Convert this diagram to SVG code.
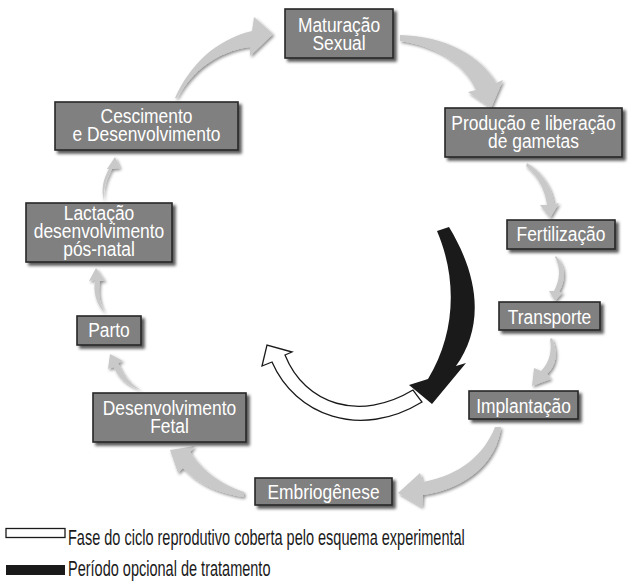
<svg xmlns="http://www.w3.org/2000/svg" width="628" height="581" viewBox="0 0 628 581">
  <defs>
    <filter id="boxShadow" x="-10%" y="-10%" width="130%" height="140%">
      <feDropShadow dx="3" dy="3" stdDeviation="1.4" flood-color="#000" flood-opacity="0.65"/>
    </filter>
    <filter id="arrowShadow" x="-20%" y="-20%" width="150%" height="150%">
      <feDropShadow dx="1.5" dy="1.8" stdDeviation="1.6" flood-color="#000" flood-opacity="0.45"/>
    </filter>
  </defs>
  <style>
    .box { fill: #808080; stroke: #262626; stroke-width: 1.6; filter: url(#boxShadow); }
    /* condensed sans: Liberation Sans squeezed horizontally */
    .lbl { fill: #ffffff; font-family: "Liberation Sans", Arial, sans-serif; font-size: 20px; text-anchor: middle; }
    .flow { fill: #c9c9c9; filter: url(#arrowShadow); }
    .phase { fill: #ffffff; stroke: #1a1a1a; stroke-width: 1.3; stroke-linejoin: miter; }
    .treat { fill: #1a1a1a; }
    .legend { fill: #1a1a1a; font-family: "Liberation Sans", Arial, sans-serif; font-size: 22px; }
  </style>

  <rect width="628" height="581" fill="#ffffff"/>

  <!-- cycle connectors -->
  <g id="connectors">
    <!-- Crescimento -> Maturação -->
    <path class="flow" d="M175,98 C190,65 215,40 252,31 L254,17 L273,34 L250,56 L250,47 C215,52 192,72 177,98 Z"/>
    <!-- Maturação -> Produção -->
    <path class="flow" d="M400,35 C445,36 480,55 496,83 L503,80 L491,108 L468,92 L476,90 C465,65 440,47 400,41 Z"/>
    <!-- Produção -> Fertilização -->
    <path class="flow" d="M527,163 C542,172 552,188 554,204 L559,203 L550,218 L540,205 L547,205 C545,190 538,176 526,166 Z"/>
    <!-- Fertilização -> Transporte -->
    <path class="flow" d="M556,256 C566,266 566,280 559,292 L563,292 L555,301 L549,291 L554,291 C560,280 561,268 555,257 Z"/>
    <!-- Transporte -> Implantação -->
    <path class="flow" d="M552,338 C558,352 557,365 547,374 L551,379 L532,386 L534,368 L541,371 C550,362 552,350 550,339 Z"/>
    <!-- Implantação -> Embriogênese -->
    <path class="flow" d="M501,427 C497,460 470,488 423,495 L422,507 L398,493 L420,473 L423,482 C460,475 484,455 495,427 Z"/>
    <!-- Embriogênese -> Desenvolvimento Fetal -->
    <path class="flow" d="M244,497 C215,493 196,482 183,468 L178,473 L170,450 L195,446 L190,452 C202,471 222,485 244,492 Z"/>
    <!-- Desenvolvimento Fetal -> Parto -->
    <path class="flow" d="M141,390 C128,386 118,378 114,367 L108,369 L110,354 L123,361 L118,363 C123,375 130,384 141,390 Z"/>
    <!-- Parto -> Lactação -->
    <path class="flow" d="M105,313 C99,302 98,292 100,281 L105,281 L96,268 L89,281 L95,280 C93,292 96,304 105,313 Z"/>
    <!-- Lactação -> Crescimento -->
    <path class="flow" d="M104,201 C103,190 106,179 112,169 L120,168 L115,157 L107,169 L109,169 C103,179 101,190 104,201 Z"/>

    <!-- phase covered by the experimental scheme -->
    <path class="phase" d="M413,390 C360,422 305,405 285,355 L292,352 L267,345 L262,366 L272,362 C295,415 360,440 422,402 Z"/>
    <!-- optional treatment period -->
    <path class="treat" d="M437,231 L449,227 C481,280 483,328 456,366 L466,363 L432,404 L409,385 L428,379 C455,335 458,280 437,231 Z"/>
  </g>

  <!-- nodes -->
  <g id="maturacao">
    <rect class="box" x="285" y="9" width="108" height="49"/>
    <text class="lbl" transform="translate(339,31.5) scale(0.87,1)"><tspan x="0">Maturação</tspan><tspan x="0" dy="19">Sexual</tspan></text>
  </g>
  <g id="producao">
    <rect class="box" x="445" y="108" width="177" height="49"/>
    <text class="lbl" transform="translate(533.5,129.5) scale(0.87,1)"><tspan x="0">Produção e liberação</tspan><tspan x="0" dy="18.5">de gametas</tspan></text>
  </g>
  <g id="fertilizacao">
    <rect class="box" x="507" y="220" width="108" height="29"/>
    <text class="lbl" transform="translate(561,241) scale(0.87,1)">Fertilização</text>
  </g>
  <g id="transporte">
    <rect class="box" x="499" y="302" width="101" height="28"/>
    <text class="lbl" transform="translate(549.5,324) scale(0.87,1)">Transporte</text>
  </g>
  <g id="implantacao">
    <rect class="box" x="469" y="391" width="109" height="28"/>
    <text class="lbl" transform="translate(523.5,413) scale(0.87,1)">Implantação</text>
  </g>
  <g id="embriogenese">
    <rect class="box" x="255" y="478" width="137" height="27"/>
    <text class="lbl" transform="translate(323.5,499) scale(0.87,1)">Embriogênese</text>
  </g>
  <g id="desenvolvimento-fetal">
    <rect class="box" x="93" y="393" width="153" height="49"/>
    <text class="lbl" transform="translate(169.5,415) scale(0.87,1)"><tspan x="0">Desenvolvimento</tspan><tspan x="0" dy="18.5">Fetal</tspan></text>
  </g>
  <g id="parto">
    <rect class="box" x="77" y="316" width="64" height="29"/>
    <text class="lbl" transform="translate(109,337) scale(0.87,1)">Parto</text>
  </g>
  <g id="lactacao">
    <rect class="box" x="26" y="203" width="146" height="59"/>
    <text class="lbl" transform="translate(99,219.5) scale(0.87,1)"><tspan x="0">Lactação</tspan><tspan x="0" dy="18.5">desenvolvimento</tspan><tspan x="0" dy="18.5">pós-natal</tspan></text>
  </g>
  <g id="crescimento">
    <rect class="box" x="55" y="102" width="183" height="48"/>
    <text class="lbl" transform="translate(146.5,122.5) scale(0.87,1)"><tspan x="0">Cescimento</tspan><tspan x="0" dy="18.5">e Desenvolvimento</tspan></text>
  </g>

  <!-- legend -->
  <g id="legend">
    <rect class="phase" x="6" y="528.5" width="59" height="9"/>
    <text class="legend" transform="translate(68,545) scale(0.66,1)">Fase do ciclo reprodutivo coberta pelo esquema experimental</text>
    <rect class="treat" x="6" y="565" width="59" height="10"/>
    <text class="legend" transform="translate(68,575.5) scale(0.66,1)">Período opcional de tratamento</text>
  </g>
</svg>
